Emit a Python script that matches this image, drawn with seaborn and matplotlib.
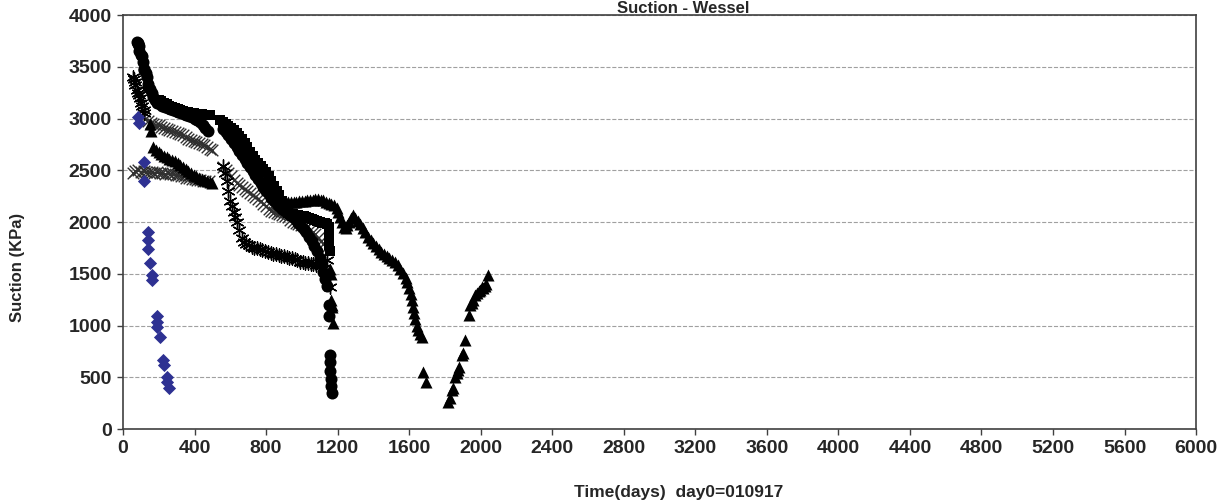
import numpy as np
import pandas as pd
import seaborn as sns
import matplotlib.pyplot as plt

# blue diamonds
dia_day = [86, 90, 119, 119, 142, 142, 142, 151, 160, 164, 188, 190, 192, 207, 225, 228, 244, 248, 259]
dia_val = [3010, 2960, 2580, 2400, 1906, 1826, 1736, 1607, 1488, 1440, 1092, 1037, 988, 892, 667, 618, 505, 457, 393]

# circles
cir_day = [80, 82, 85, 88, 92, 99, 104, 110, 116, 120, 126, 133, 138, 142, 150, 160, 170, 180,
           190, 205, 220, 235, 250, 265, 280, 295, 310, 325, 340, 355, 370, 385, 400, 415, 430, 445, 460, 477,
           560, 575, 590, 605, 620, 635, 650, 665, 680, 695, 710, 725, 740, 755, 770, 785, 800, 815, 830, 845,
           860, 875, 890, 905, 920, 935, 950, 965, 980, 995, 1010, 1025, 1040, 1055, 1070, 1085, 1100, 1110,
           1120, 1130, 1140,
           1150, 1152, 1155, 1158, 1160, 1163, 1165, 1167]
cir_val = [3740, 3730, 3720, 3700, 3650, 3613, 3600, 3550, 3480, 3469, 3440, 3400, 3330, 3301, 3290, 3250, 3210, 3180,
           3150, 3140, 3120, 3110, 3100, 3090, 3080, 3070, 3060, 3050, 3040, 3030, 3020, 3010, 3000, 2990, 2970, 2940, 2910, 2880,
           2900, 2870, 2840, 2800, 2760, 2720, 2690, 2650, 2610, 2570, 2530, 2490, 2450, 2420, 2380, 2340, 2300, 2270, 2230, 2200,
           2170, 2150, 2130, 2110, 2090, 2070, 2050, 2020, 1990, 1960, 1930, 1900, 1860, 1820, 1770, 1720, 1650, 1600,
           1520, 1450, 1380,
           1200, 1090, 715, 650, 560, 480, 420, 344]

# squares
sq_day = [200, 215, 230, 245, 260, 275, 290, 305, 320, 335, 350, 365, 380, 395, 410, 425, 440, 455, 470, 485,
          545, 560, 575, 590, 605, 620, 635, 650, 665, 680, 695, 710, 725, 740, 755, 770, 785, 800, 815, 830,
          845, 860, 875, 890, 905, 920, 935, 950, 965, 980, 995, 1010, 1025, 1040, 1055, 1070, 1085, 1100,
          1115, 1130, 1140, 1150, 1150, 1152, 1152, 1155]
sq_val = [3180, 3170, 3150, 3140, 3120, 3110, 3100, 3090, 3080, 3070, 3065, 3060, 3055, 3050, 3045, 3040, 3040, 3035, 3030, 3030,
          2990, 2970, 2950, 2930, 2910, 2890, 2860, 2830, 2800, 2760, 2720, 2680, 2640, 2600, 2570, 2540, 2510, 2480, 2440, 2400,
          2350, 2300, 2260, 2200, 2140, 2090, 2080, 2075, 2070, 2065, 2060, 2055, 2050, 2040, 2030, 2020, 2010, 2000,
          1995, 1990, 1985, 1950, 1900, 1850, 1780, 1720]

# triangles
tri_day = [151, 155, 170, 185, 200, 215, 230, 245, 260, 275, 290, 305, 320, 335, 350, 365, 380, 395, 410, 425,
           440, 455, 470, 485, 500,
           820, 835, 850, 865, 880, 895, 910, 925, 940, 955, 970, 985, 1000, 1015, 1030, 1045, 1060, 1075, 1090,
           1105, 1120, 1135, 1150, 1165, 1180, 1195, 1205, 1215, 1225, 1235, 1245, 1255, 1265, 1275, 1288, 1300,
           1312, 1325, 1340, 1355, 1370, 1385, 1400, 1415, 1430, 1445, 1460, 1475, 1490, 1505, 1520, 1535, 1550,
           1565, 1580, 1590, 1600, 1608, 1615, 1622, 1628, 1635, 1642, 1650, 1660, 1671, 1680, 1695,
           1819, 1828, 1838, 1848, 1857, 1868, 1876, 1881, 1894, 1904, 1913, 1932, 1941, 1950, 1958, 1969, 1978,
           1988, 1995, 2006, 2015, 2025, 2030, 2043,
           1158, 1162, 1165, 1168, 1170, 1176]
tri_val = [2950, 2880, 2720, 2700, 2680, 2660, 2640, 2630, 2610, 2600, 2590, 2570, 2550, 2530, 2510, 2490, 2470, 2450, 2440, 2430,
           2420, 2410, 2400, 2390, 2380,
           2400, 2350, 2300, 2250, 2210, 2200, 2195, 2190, 2190, 2190, 2195, 2200, 2200, 2205, 2210, 2210, 2215, 2220, 2220,
           2215, 2210, 2195, 2180, 2170, 2160, 2140, 2100, 2050, 2000, 1950, 1940, 1970, 2000, 2040, 2068, 2040,
           2010, 1980, 1940, 1900, 1860, 1830, 1800, 1770, 1740, 1710, 1690, 1670, 1650, 1630, 1610, 1580, 1550,
           1510, 1460, 1420, 1360, 1300, 1250, 1180, 1120, 1060, 1000, 960, 920, 890, 554, 457,
           264, 300, 377, 393, 505, 540, 570, 602, 715, 731, 860, 1101, 1198, 1214, 1250, 1295, 1311,
           1330, 1340, 1375, 1359, 1380, 1400, 1488,
           1550, 1500, 1250, 1200, 1182, 1021]

# x marks
xm_day = [110, 125, 140, 155, 170, 185, 200, 215, 230, 245, 260, 275, 290, 305, 320, 337, 350, 365, 380, 395,
          410, 425, 440, 455, 468, 485, 500,
          58, 70, 85, 100, 115, 130, 145, 160, 175, 190, 205, 220, 235, 250, 265, 280, 295, 310, 325, 340,
          355, 370, 385, 400, 415, 431, 445, 460, 480,
          560, 575, 590, 605, 620, 635, 650, 665, 680, 695, 710, 725, 740, 755, 770, 785, 800, 815, 830, 845,
          860, 875, 890, 905, 920, 935, 950, 965, 980, 995, 1010, 1025, 1046, 1060, 1075, 1090, 1105, 1120, 1139]
xm_val = [3017, 3000, 2980, 2960, 2950, 2940, 2937, 2920, 2910, 2900, 2890, 2880, 2870, 2860, 2850, 2840, 2820, 2800, 2790, 2780,
          2770, 2760, 2750, 2740, 2728, 2710, 2696,
          2470, 2490, 2500, 2480, 2490, 2480, 2480, 2480, 2470, 2480, 2470, 2470, 2460, 2470, 2460, 2460, 2450, 2450, 2440, 2440,
          2430, 2430, 2420, 2420, 2410, 2406, 2400, 2400, 2400,
          2534, 2500, 2470, 2440, 2406, 2380, 2360, 2340, 2320, 2300, 2277, 2260, 2240, 2220, 2200, 2170, 2150, 2130, 2110, 2100,
          2090, 2080, 2070, 2060, 2050, 2020, 2000, 1990, 1980, 1970, 1960, 1940, 1923, 1900, 1880, 1850, 1820, 1790, 1761]

# asterisks
st_day = [58, 62, 65, 70, 77, 83, 90, 95, 100, 108, 115, 120,
          561, 570, 580, 590, 600, 610, 620, 628, 636, 650, 664, 677, 690, 705, 720, 735, 750, 765, 780, 795,
          810, 825, 840, 855, 870, 885, 900, 915, 930, 945, 960, 975, 990, 1005, 1020, 1035, 1050, 1065, 1080,
          1095, 1110, 1125, 1139, 1158]
st_val = [3404, 3380, 3350, 3320, 3275, 3250, 3230, 3200, 3150, 3120, 3080, 3050,
          2540, 2470, 2400, 2300, 2200, 2150, 2100, 2050, 2003, 1920, 1842, 1810, 1790, 1775, 1760, 1750, 1745, 1735, 1725, 1718,
          1710, 1705, 1695, 1690, 1685, 1675, 1670, 1665, 1655, 1650, 1640, 1630, 1617, 1612, 1605, 1600, 1595, 1590, 1585,
          1580, 1575, 1560, 1633, 1375]

sns.set_style("ticks")
plt.rcParams['font.family'] = ['Liberation Sans', 'DejaVu Sans']
plt.rcParams['font.weight'] = 'bold'

fig = plt.figure(figsize=(12.31, 5.04), dpi=100)
ax = fig.add_axes([0.0999, 0.1488, 0.8717, 0.8214])

sns.scatterplot(x=xm_day, y=xm_val, ax=ax, marker='x', color='#303030', s=70, linewidth=1.0)
sns.scatterplot(x=st_day, y=st_val, ax=ax, marker=(6, 2, 0), color='black', s=90, linewidth=1.0)
sns.scatterplot(x=tri_day, y=tri_val, ax=ax, marker='^', color='black', s=75, linewidth=0)
sns.scatterplot(x=sq_day, y=sq_val, ax=ax, marker='s', color='black', s=60, linewidth=0)
sns.scatterplot(x=cir_day, y=cir_val, ax=ax, marker='o', color='black', s=75, linewidth=0)
sns.scatterplot(x=dia_day, y=dia_val, ax=ax, marker='D', color='#2E3192', s=45, linewidth=0)

ax.set_xlim(0, 6000)
ax.set_ylim(0, 4000)
ax.set_xticks(range(0, 6001, 400))
ax.set_yticks(range(0, 4001, 500))
ax.yaxis.grid(True, linestyle='--', color='#a0a0a0', linewidth=0.8)
ax.set_axisbelow(True)
for sp in ax.spines.values():
    sp.set_color('#404040')
    sp.set_linewidth(1.2)
ax.tick_params(length=4, width=1, color='#404040', labelsize=14, pad=4)
for lab in ax.get_xticklabels() + ax.get_yticklabels():
    lab.set_fontweight('bold')
ax.set_xlabel('')
ax.set_ylabel('')

fig.text(683 / 1231, 1 - 1 / 504, 'Suction - Wessel', ha='center', va='top', fontsize=12, fontweight='bold')
fig.text(18 / 1231, 1 - 267 / 504, 'Suction (KPa)', rotation=90, ha='center', va='center', fontsize=12, fontweight='bold')
fig.text(679 / 1231, 1 - 492 / 504, 'Time(days)  day0=010917', ha='center', va='center', fontsize=12.5, fontweight='bold')

fig.savefig('out.png', dpi=100)
